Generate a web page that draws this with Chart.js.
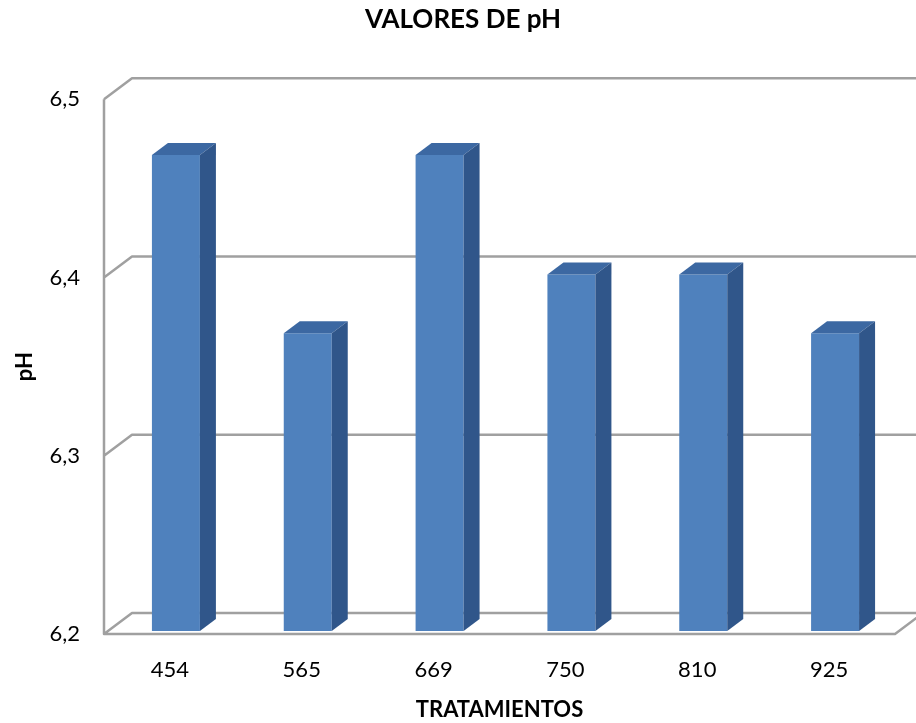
<!DOCTYPE html>
<html>
<head>
<meta charset="utf-8">
<title>Valores de pH</title>
<script src="https://cdn.jsdelivr.net/npm/chart.js@4.4.1/dist/chart.umd.min.js"></script>
<style>
  html, body { margin: 0; padding: 0; background: #fff; }
  canvas { display: block; }
</style>
</head>
<body>
<canvas id="phChart" width="916" height="723"></canvas>
<script>
// Datos del gráfico
const tratamientos = ['454', '565', '669', '750', '810', '925'];
const valoresPh = [6.467, 6.367, 6.467, 6.4, 6.4, 6.367];
const ejeMin = 6.2;
const ejeMax = 6.5;
const ejePaso = 0.1;

// Desplazamientos para el efecto 3D
const FONDO = { dx: 28, dy: -21 };   // pared del fondo
const BARRA = { dx: 16, dy: -12 };   // profundidad de cada barra
const FRENTE = { dx: 6, dy: -3 };    // barras un poco detrás del plano frontal

const efecto3D = {
  id: 'efecto3D',
  beforeDatasetsDraw(chart) {
    const { ctx, chartArea: a, scales: { y } } = chart;
    ctx.save();
    ctx.strokeStyle = '#a0a0a0';
    ctx.lineWidth = 2.5;
    ctx.lineJoin = 'round';
    ctx.beginPath();
    // líneas de división en la pared del fondo
    y.ticks.forEach(t => {
      const py = y.getPixelForValue(t.value);
      ctx.moveTo(a.left, py);
      ctx.lineTo(a.left + FONDO.dx, py + FONDO.dy);
      ctx.lineTo(chart.width + 10, py + FONDO.dy);
    });
    // borde izquierdo y suelo frontal
    ctx.moveTo(a.left, a.top);
    ctx.lineTo(a.left, a.bottom);
    ctx.lineTo(a.right, a.bottom);
    ctx.lineTo(a.right + FONDO.dx, a.bottom + FONDO.dy);
    ctx.stroke();
    ctx.restore();

    ctx.save();
    ctx.translate(FRENTE.dx, FRENTE.dy);
  },
  afterDatasetsDraw(chart) {
    const { ctx, scales } = chart;
    const suelo = scales.y.getPixelForValue(ejeMin);
    chart.getDatasetMeta(0).data.forEach(bar => {
      const { x, y, width } = bar.getProps(['x', 'y', 'width'], true);
      const x0 = x - width / 2;
      const x1 = x + width / 2;
      // cara superior
      ctx.fillStyle = '#3c68a2';
      ctx.beginPath();
      ctx.moveTo(x0, y);
      ctx.lineTo(x1, y);
      ctx.lineTo(x1 + BARRA.dx, y + BARRA.dy);
      ctx.lineTo(x0 + BARRA.dx, y + BARRA.dy);
      ctx.closePath();
      ctx.fill();
      // cara lateral
      ctx.fillStyle = '#30568a';
      ctx.beginPath();
      ctx.moveTo(x1, y);
      ctx.lineTo(x1 + BARRA.dx, y + BARRA.dy);
      ctx.lineTo(x1 + BARRA.dx, suelo + BARRA.dy);
      ctx.lineTo(x1, suelo);
      ctx.closePath();
      ctx.fill();
    });
    ctx.restore();
  }
};

Chart.defaults.font.family = 'Lato, "Open Sans", sans-serif';
Chart.defaults.color = '#000';

const ctx = document.getElementById('phChart').getContext('2d');
const phChart = new Chart(ctx, {
  type: 'bar',
  data: {
    labels: tratamientos,
    datasets: [{
      label: 'pH',
      data: valoresPh,
      backgroundColor: '#4f81bd',
      borderWidth: 0,
      categoryPercentage: 1,
      barPercentage: 0.364
    }]
  },
  options: {
    responsive: false,
    animation: false,
    devicePixelRatio: 1,
    layout: { padding: { left: 31, right: 21, top: 0, bottom: 0 } },
    plugins: {
      legend: { display: false },
      tooltip: { enabled: false },
      title: {
        display: true,
        text: 'VALORES DE pH',
        color: '#000',
        font: { size: 26, weight: 'bold' },
        padding: { top: 4, bottom: 64 }
      }
    },
    scales: {
      x: {
        grid: { display: false, drawTicks: false },
        border: { display: false },
        ticks: { font: { size: 22 }, padding: 23 },
        title: {
          display: true,
          text: 'TRATAMIENTOS',
          font: { size: 22, weight: 'bold' },
          padding: { top: 0, bottom: 0 }
        },
        afterFit: s => { s.height = 89; }
      },
      y: {
        min: ejeMin,
        max: ejeMax,
        grid: { display: false, drawTicks: false },
        border: { display: false },
        ticks: {
          stepSize: ejePaso,
          font: { size: 22 },
          padding: 24,
          callback: v => v.toFixed(1).replace('.', ',')
        },
        title: {
          display: true,
          text: 'pH',
          font: { size: 22, weight: 'bold' },
          padding: { top: -19, bottom: 0 }
        },
        afterFit: s => { s.width = 73; }
      }
    }
  },
  plugins: [efecto3D]
});
</script>
</body>
</html>
